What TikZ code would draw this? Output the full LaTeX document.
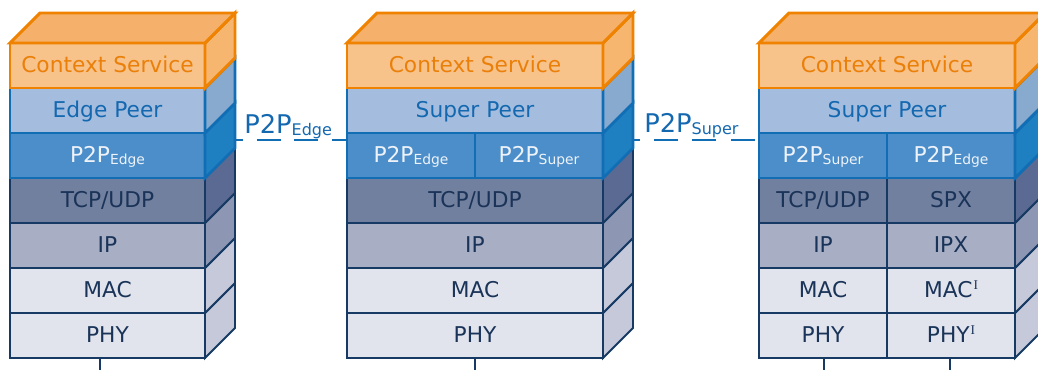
\documentclass[tikz,border=0pt]{standalone}
\usepackage{fontspec}
\setmainfont{DejaVu Sans}
\newfontfamily\serifsup{Liberation Serif}

\definecolor{csFront}{HTML}{F8C28B}
\definecolor{csTop}{HTML}{F5B16B}
\definecolor{csSide}{HTML}{F6B670}
\definecolor{csLine}{HTML}{EF8200}
\definecolor{csText}{HTML}{EA8009}
\definecolor{peerFront}{HTML}{A4BDDF}
\definecolor{peerSide}{HTML}{88AACF}
\definecolor{pFront}{HTML}{4C8EC9}
\definecolor{pSide}{HTML}{1F80C1}
\definecolor{blueLine}{HTML}{116EB5}
\definecolor{blueText}{HTML}{1468B0}
\definecolor{pText}{HTML}{EEF3FA}
\definecolor{tFront}{HTML}{72809F}
\definecolor{tSide}{HTML}{5B6A92}
\definecolor{ipFront}{HTML}{A8AEC4}
\definecolor{ipSide}{HTML}{8D96B3}
\definecolor{lowFront}{HTML}{E1E4EC}
\definecolor{lowSide}{HTML}{C6C9DA}
\definecolor{navy}{HTML}{163A63}
\definecolor{navyText}{HTML}{1A3358}

% one layer of a protocol stack: front face plus its side face
% #1 left x, #2 right x, #3 top y, #4 bottom y, #5 layer kind
\newcommand\slab[5]{%
  \path[#5 front] (#1,#3) rectangle (#2,#4);
  \path[#5 side] (#2,#3) -- (#2+30,#3-30) -- (#2+30,#4-30) -- (#2,#4) -- cycle;}
% top lid of a stack
\newcommand\lid[2]{%
  \path[cs top] (#1,43) -- (#1+30,13) -- (#2+30,13) -- (#2,43) -- cycle;}
\newcommand\lsub[1]{\raisebox{-1.5pt}{\fontsize{10.4}{12}\selectfont #1}}
\newcommand\bigsub[1]{\raisebox{-2pt}{\fontsize{12}{14}\selectfont #1}}
\newcommand\romsup[1]{\kern0.8pt\raisebox{5.5pt}{\serifsup\fontsize{10}{11}\selectfont #1}}

\tikzset{
  x=0.75pt, y=-0.75pt,
  cs front/.style={fill=csFront, draw=csLine, line width=2.2pt},
  cs side/.style={fill=csSide, draw=csLine, line width=2.2pt},
  cs top/.style={fill=csTop, draw=csLine, line width=2.2pt},
  peer front/.style={fill=peerFront, draw=blueLine, line width=2.1pt},
  peer side/.style={fill=peerSide, draw=blueLine, line width=2.1pt},
  p2p front/.style={fill=pFront, draw=blueLine, line width=2.1pt},
  p2p side/.style={fill=pSide, draw=blueLine, line width=2.1pt},
  tcp front/.style={fill=tFront, draw=navy, line width=1.4pt},
  tcp side/.style={fill=tSide, draw=navy, line width=1.4pt},
  ip front/.style={fill=ipFront, draw=navy, line width=1.4pt},
  ip side/.style={fill=ipSide, draw=navy, line width=1.4pt},
  low front/.style={fill=lowFront, draw=navy, line width=1.4pt},
  low side/.style={fill=lowSide, draw=navy, line width=1.4pt},
  txt/.style={inner sep=0pt, anchor=base, font=\fontsize{16.3}{19}\selectfont},
  cs text/.style={txt, text=csText},
  peer text/.style={txt, text=blueText},
  p2p text/.style={txt, text=pText},
  low text/.style={txt, text=navyText},
  bluediv/.style={draw=blueLine, line width=2.1pt},
  navydiv/.style={draw=navy, line width=1.4pt},
  link/.style={draw=blueLine, line width=2.2pt},
  linklabel/.style={inner sep=0pt, anchor=base west, text=blueText,
    font=\fontsize{19.3}{22}\selectfont},
  drop/.style={draw=navy, line width=1.4pt},
}

\begin{document}
\begin{tikzpicture}
\useasboundingbox (0,0) rectangle (1038,369);
\clip (0,0) rectangle (1038,369);

% ---------------- edge peer stack ----------------
\slab{10}{205}{313}{358}{low}
\slab{10}{205}{268}{313}{low}
\slab{10}{205}{223}{268}{ip}
\slab{10}{205}{178}{223}{tcp}
\slab{10}{205}{133}{178}{p2p}
\slab{10}{205}{88}{133}{peer}
\slab{10}{205}{43}{88}{cs}
\lid{10}{205}
\node[cs text]   (a7) at (107.5,72.5) {Context Service};
\node[peer text] (a6) at (107.5,117.5) {Edge Peer};
\node[p2p text]  (a5) at (107.5,162) {P2P\lsub{Edge}};
\node[low text]  (a4) at (107.5,207) {TCP/UDP};
\node[low text]  (a3) at (107.5,252) {IP};
\node[low text]  (a2) at (107.5,297) {MAC};
\node[low text]  (a1) at (107.5,342) {PHY};

% ---------------- super peer stack ----------------
\slab{347}{603}{313}{358}{low}
\slab{347}{603}{268}{313}{low}
\slab{347}{603}{223}{268}{ip}
\slab{347}{603}{178}{223}{tcp}
\slab{347}{603}{133}{178}{p2p}
\path[bluediv] (475,133) -- (475,178);
\slab{347}{603}{88}{133}{peer}
\slab{347}{603}{43}{88}{cs}
\lid{347}{603}
\node[cs text]   (b8) at (475,72.5) {Context Service};
\node[peer text] (b7) at (475,117.5) {Super Peer};
\node[p2p text]  (b6) at (411,162) {P2P\lsub{Edge}};
\node[p2p text]  (b5) at (539,162) {P2P\lsub{Super}};
\node[low text]  (b4) at (475,207) {TCP/UDP};
\node[low text]  (b3) at (475,252) {IP};
\node[low text]  (b2) at (475,297) {MAC};
\node[low text]  (b1) at (475,342) {PHY};

% ---------------- gateway super peer stack ----------------
\slab{759}{1015}{313}{358}{low}
\slab{759}{1015}{268}{313}{low}
\slab{759}{1015}{223}{268}{ip}
\slab{759}{1015}{178}{223}{tcp}
\path[navydiv] (887,178) -- (887,358);
\slab{759}{1015}{133}{178}{p2p}
\path[bluediv] (887,133) -- (887,178);
\slab{759}{1015}{88}{133}{peer}
\slab{759}{1015}{43}{88}{cs}
\lid{759}{1015}
\node[cs text]   (c12) at (887,72.5) {Context Service};
\node[peer text] (c11) at (887,117.5) {Super Peer};
\node[p2p text]  (c10) at (823,162) {P2P\lsub{Super}};
\node[p2p text]  (c9)  at (951,162) {P2P\lsub{Edge}};
\node[low text]  (c8)  at (823,207) {TCP/UDP};
\node[low text]  (c7)  at (951,207) {SPX};
\node[low text]  (c6)  at (823,252) {IP};
\node[low text]  (c5)  at (951,252) {IPX};
\node[low text]  (c4)  at (823,297) {MAC};
\node[low text]  (c3)  at (951,297) {MAC\romsup{I}};
\node[low text]  (c2)  at (823,342) {PHY};
\node[low text]  (c1)  at (951,342) {PHY\romsup{I}};

% ---------------- overlay links ----------------
\coordinate (aBack)  at (235,140);
\coordinate (bFront) at (347,140);
\coordinate (bBack)  at (633,140);
\coordinate (cFront) at (759,140);
\path[link, dash pattern=on 18pt off 10.2pt, dash phase=12pt] (aBack) -- (bFront);
\path[link, dash pattern=on 18pt off 10.8pt, dash phase=13pt] (bBack) -- (cFront);
\node[linklabel] (la) at (244,133) {P2P\bigsub{Edge}};
\node[linklabel] (lb) at (644,132) {P2P\bigsub{Super}};

% ---------------- attachment lines below the stacks ----------------
\coordinate (aFoot)  at (100,358);  \coordinate (aEnd)  at (100,375);
\coordinate (bFoot)  at (475,358);  \coordinate (bEnd)  at (475,375);
\coordinate (cFootL) at (824,358);  \coordinate (cEndL) at (824,375);
\coordinate (cFootR) at (950,358);  \coordinate (cEndR) at (950,375);
\path[drop] (aFoot) -- (aEnd);
\path[drop] (bFoot) -- (bEnd);
\path[drop] (cFootL) -- (cEndL);
\path[drop] (cFootR) -- (cEndR);
\end{tikzpicture}
\end{document}
